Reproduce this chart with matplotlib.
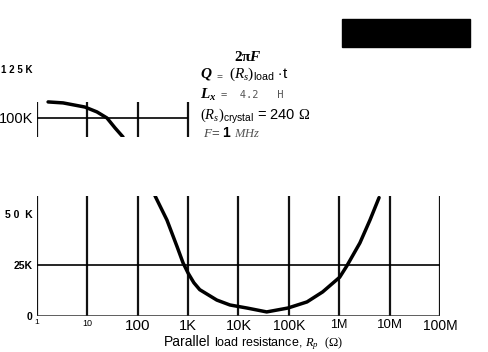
#!/usr/bin/env python3
"""plot.py: Q versus parallel load resistance (broken axis)."""

import matplotlib
matplotlib.use('Agg')
import matplotlib.pyplot as plt
from matplotlib.patches import Rectangle

plt.rcParams['font.family'] = ['Liberation Sans', 'DejaVu Sans']
plt.rcParams['mathtext.fontset'] = 'custom'
plt.rcParams['mathtext.rm'] = 'Liberation Serif'
plt.rcParams['mathtext.it'] = 'Liberation Serif:italic'
plt.rcParams['mathtext.bf'] = 'Liberation Serif:bold'
plt.rcParams['mathtext.bfit'] = 'Liberation Serif:italic:bold'
plt.rcParams['mathtext.sf'] = 'Liberation Sans'

# upper part of the curve (ohm, K)
top_r = [1.66, 3.3, 8.9, 15.5, 24.5, 35.5, 51]
top_q = [108.2, 107.7, 105.6, 103.1, 100.0, 94.9, 90.3]

# lower part of the curve (ohm, K)
low_r = [219, 380, 603, 794, 1000, 1300, 1700, 3715, 6760, 14800, 36300,
         95500, 229000, 468000, 1.02e6, 1.41e6, 2.57e6, 4.07e6, 6.17e6]
low_q = [59, 47, 34, 26, 21, 16.3, 12.9, 7.8, 5.4, 3.9, 2.0,
         3.9, 6.9, 11.8, 19, 24.5, 35.8, 47, 58]

top_grid = [1, 10, 100, 1e3]
low_grid = [1, 10, 100, 1e3, 1e4, 1e5, 1e6, 1e7, 1e8]
xlabels = ['1', '10', '100', '1K', '10K', '100K', '1M', '10M', '100M']
xlabel_sizes = [6, 6.5, 11, 10.5, 10.5, 10, 9, 9.5, 10]

W, H = 489, 352


def create_figure():
    fig = plt.figure(figsize=(W / 100, H / 100), dpi=100)

    # lower panel: 0 .. ~59K
    ax = fig.add_axes([37 / W, 36 / H, 403 / W, 120 / H])
    ax.set_xscale('log')
    ax.set_xlim(1, 1e8)
    ax.set_ylim(0, 58.8)
    ax.vlines(low_grid, 0, 58.8, color='#111111', lw=1.6)
    ax.axhline(25, color='black', lw=1.2)
    ax.axhline(0, color='#333333', lw=1.1)
    ax.plot(low_r, low_q, color='black', lw=2.5, solid_joinstyle='round',
            solid_capstyle='round')
    for s in ax.spines.values():
        s.set_visible(False)
    ax.set_xticks(low_grid)
    ax.set_xticklabels(xlabels)
    ax.minorticks_off()
    for t, fs in zip(ax.get_xticklabels(), xlabel_sizes):
        t.set_fontsize(fs)
    ax.set_yticks([0, 25, 50])
    ax.set_yticklabels(['0', '25K', '5 0  K'], fontsize=7.5, fontweight='bold')
    ax.tick_params(length=0, pad=3)
    ax.tick_params(axis='x', pad=2)

    # upper panel: ~90K .. ~130K
    ax2 = fig.add_axes([37 / W, 215 / H, 403 / W, 77 / H])
    ax2.set_xscale('log')
    ax2.set_xlim(1, 1e8)
    ax2.set_ylim(90.3, 129.6)
    ax2.vlines(top_grid, 90.3, 108.2, color='#111111', lw=1.6)
    ax2.hlines(100, 1, 1e3, color='black', lw=1.2)
    ax2.plot(top_r, top_q, color='black', lw=2.5, solid_capstyle='round',
             solid_joinstyle='round')
    for s in ax2.spines.values():
        s.set_visible(False)
    ax2.set_xticks([])
    ax2.minorticks_off()
    ax2.set_yticks([100, 125])
    ax2.set_yticklabels(['100K', '1 2 5 K'])
    ax2.get_yticklabels()[0].set_fontsize(10.5)
    ax2.get_yticklabels()[1].set_fontsize(7)
    ax2.get_yticklabels()[1].set_fontweight('bold')
    ax2.tick_params(length=0, pad=3)

    # formula block
    fig.text(248 / W, 1 - 57 / H, r'$\mathbf{2\pi}\mathbfit{F}$', fontsize=11,
             ha='center', va='center')
    fig.text(200 / W, 1 - 74 / H,
             r'$\mathbfit{Q}$ $_=$ $(R_s)_{\mathsf{load}}$ $\cdot$t',
             fontsize=11, va='center')
    fig.text(200 / W, 1 - 95 / H, r'$\mathbfit{L_x}$', fontsize=11, va='center')
    fig.text(221 / W, 1 - 95 / H, '=  4.2   H', fontsize=7.5, va='center',
             color='#555555', family='DejaVu Sans Mono')
    fig.text(200 / W, 1 - 117 / H,
             r'$(R_s)_{\mathsf{crystal}}$ = 240 $\Omega$',
             fontsize=10.5, va='center')
    fig.text(203 / W, 1 - 134 / H, r'$F$=', fontsize=9.5, va='center',
             color='#444444')
    fig.text(222 / W, 1 - 133 / H, '1', fontsize=10, va='center',
             fontweight='bold')
    fig.text(234 / W, 1 - 134 / H, r'$MHz$', fontsize=9, va='center',
             color='#555555')

    # axis title
    fig.text(164 / W, 1 - 342 / H, 'Parallel', fontsize=10, va='center')
    fig.text(214 / W, 1 - 344 / H, r'load resistance, $R_p$  $(\Omega)$',
             fontsize=9, va='center')

    # blacked out block at top right of the scan
    fig.patches.append(Rectangle((342 / W, 1 - 47 / H), 128 / W, 28 / H,
                                 transform=fig.transFigure, color='black'))

    fig.savefig('out.png', dpi=100)
    plt.close(fig)


def main():
    create_figure()


if __name__ == '__main__':
    main()
